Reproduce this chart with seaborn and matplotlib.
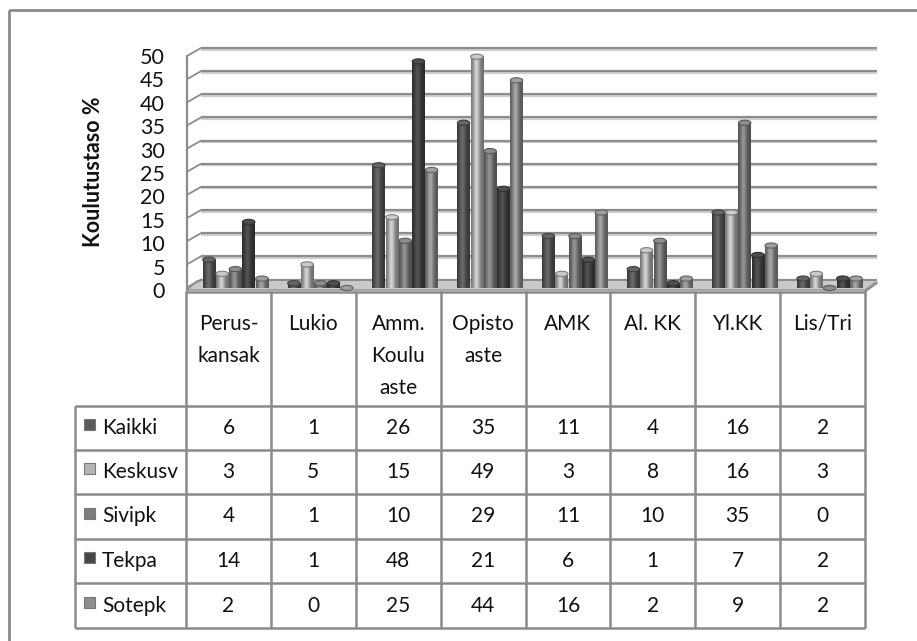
import numpy as np
import pandas as pd
import matplotlib
matplotlib.use("Agg")
import matplotlib.pyplot as plt
from matplotlib.patches import Polygon, Rectangle, Ellipse
import seaborn as sns

# ---- data -------------------------------------------------------------
categories = ["Perus-\nkansak", "Lukio", "Amm.\nKoulu\naste", "Opisto\naste",
              "AMK", "Al. KK", "Yl.KK", "Lis/Tri"]
groups = ["Kaikki", "Keskusv", "Sivipk", "Tekpa", "Sotepk"]
kaikki = [6, 1, 26, 35, 11, 4, 16, 2]
keskusv = [3, 5, 15, 49, 3, 8, 16, 3]
sivipk = [4, 1, 10, 29, 11, 10, 35, 0]
tekpa = [14, 1, 48, 21, 6, 1, 7, 2]
sotepk = [2, 0, 25, 44, 16, 2, 9, 2]
y_ticks = [0, 5, 10, 15, 20, 25, 30, 35, 40, 45, 50]
y_label = "Koulutustaso %"

series = [kaikki, keskusv, sivipk, tekpa, sotepk]
colors = ["#5a5a5a", "#b4b4b4", "#7e7e7e", "#464646", "#8e8e8e"]

df = pd.DataFrame({
    "Koulutus": categories * len(groups),
    "Ryhmä": [g for g in groups for _ in categories],
    "Osuus": [v for s in series for v in s],
})

W, H = 917, 641
sns.set_theme(style="white")
plt.rcParams["font.family"] = ["Lato", "DejaVu Sans"]

fig = plt.figure(figsize=(W / 100, H / 100), dpi=100)
fig.patch.set_facecolor("white")

# pixel-space canvas for frame, walls, floor and the data table
ov = fig.add_axes([0, 0, 1, 1], zorder=0)
ov.set_xlim(0, W)
ov.set_ylim(H, 0)
ov.axis("off")

def px_axes(left, top, right, bottom, **kw):
    return fig.add_axes([left / W, 1 - bottom / H, (right - left) / W, (bottom - top) / H], **kw)

GRID = "#8c8c8c"
SHADOW = "#cfcfcf"

# outer chart frame
ov.add_patch(Rectangle((9, 10), 940, 660, fill=False, ec="#8a8a8a", lw=2.0))

# 3-D back wall grid
x_front, x_back, x_end = 187, 201, 877
def y_back(v):
    return 279.5 - 4.63 * v
for v in y_ticks:
    yb = y_back(v)
    ov.plot([x_back, x_end], [yb + 1.5, yb + 1.5], color=SHADOW, lw=1.6, solid_capstyle="butt")
    ov.plot([x_back, x_end], [yb, yb], color=GRID, lw=1.6, solid_capstyle="butt")
    ov.plot([x_front, x_back], [yb + 8, yb], color=GRID, lw=1.3)
    ov.text(165, 292 - 4.68 * v, str(v), ha="right", va="center", fontsize=15.5,
            color="#111111")
ov.plot([x_front, x_front], [y_back(50) + 8, 291], color=GRID, lw=1.6)

# floor
floor = Polygon([(187, 290), (865, 290), (877, 281), (197, 281)], closed=True,
                fc="#c9c9c9", ec="#9a9a9a", lw=1.2)
ov.add_patch(floor)
ov.plot([187, 865], [291.5, 291.5], color="#8a8a8a", lw=1.8)
ov.plot([865, 877], [291.5, 283], color="#8a8a8a", lw=1.4)

# axis title
ov.text(93, 172, y_label, rotation=90, ha="center", va="center",
        fontsize=15.5, fontweight="bold", color="#111111")

# ---- bars -------------------------------------------------------------
ax = px_axes(193, 52, 872, 288, zorder=2)
sns.barplot(data=df, x="Koulutus", y="Osuus", hue="Ryhmä", palette=colors,
            order=categories, hue_order=groups, width=0.78, gap=0.06,
            saturation=1, legend=False, ax=ax, linewidth=0)
ax.set_xlim(-0.5, len(categories) - 0.5)
ax.set_ylim(0, 50)
ax.axis("off")
ax.patch.set_alpha(0)

# cylinder shading for each column
t = np.linspace(0, 1, 64)
profile = 0.62 + 0.55 * np.exp(-((t - 0.42) / 0.26) ** 2)
cap_h = 1.1
for container, col in zip(ax.containers, colors):
    base = np.array(matplotlib.colors.to_rgb(col))
    grad = np.clip(base[None, None, :] * profile[None, :, None], 0, 1)
    for patch in container:
        x0, w, h = patch.get_x(), patch.get_width(), patch.get_height()
        patch.set_visible(False)
        if h > 0:
            ax.imshow(grad, extent=[x0, x0 + w, 0, h], aspect="auto",
                      interpolation="bilinear", zorder=3, clip_on=False)
        cap = Ellipse((x0 + w / 2, h), w, cap_h, fc=np.clip(base * 1.12, 0, 1),
                      ec=np.clip(base * 0.7, 0, 1), lw=0.8, zorder=4, clip_on=False)
        ax.add_patch(cap)

# ---- data table -------------------------------------------------------
col_edges = np.linspace(186, 865, len(categories) + 1)
row_edges = [406, 450, 494, 539, 583, 628]
TL = "#8a8a8a"
for xe in col_edges:
    ov.plot([xe, xe], [291, 628], color=TL, lw=1.8, solid_capstyle="butt")
ov.plot([75, 75], [406, 628], color=TL, lw=1.8, solid_capstyle="butt")
for ye in row_edges:
    ov.plot([75, 865], [ye, ye], color=TL, lw=1.8, solid_capstyle="butt")

centers = (col_edges[:-1] + col_edges[1:]) / 2
for cx, lab in zip(centers, categories):
    ov.text(cx, 314, lab, ha="center", va="top", fontsize=15, linespacing=1.75, color="#111111")

for i, (g, s, col) in enumerate(zip(groups, series, colors)):
    cy = (row_edges[i] + row_edges[i + 1]) / 2
    ov.add_patch(Rectangle((84, cy - 9), 11, 11, fc=col, ec="#777777", lw=0.8))
    ov.text(102, cy, g, ha="left", va="center", fontsize=15, color="#111111")
    for cx, v in zip(centers, s):
        ov.text(cx, cy, str(v), ha="center", va="center", fontsize=15, color="#111111")

fig.savefig("out.png", dpi=100, facecolor="white")
